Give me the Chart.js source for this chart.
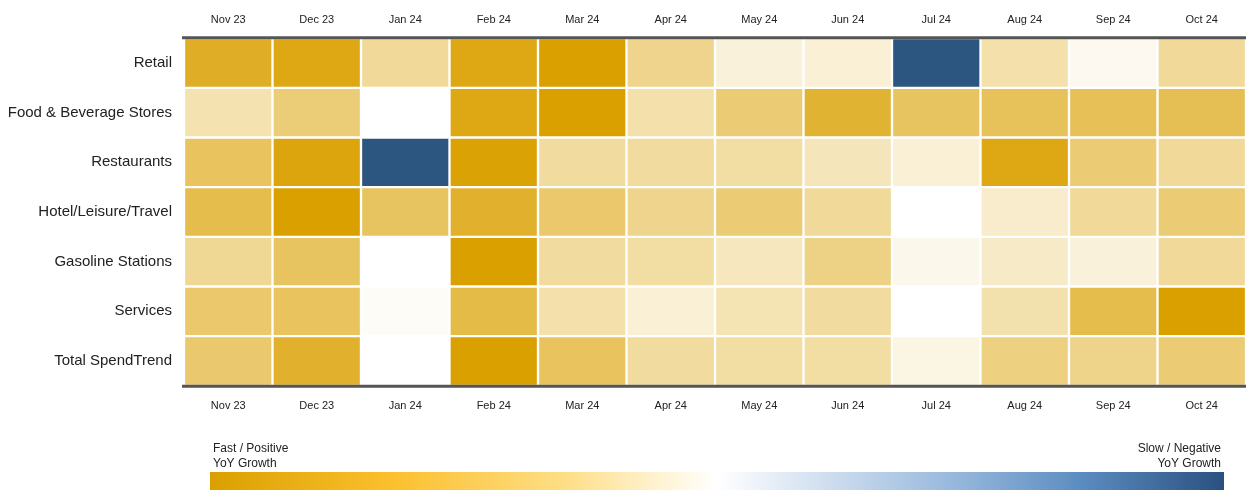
<!DOCTYPE html>
<html>
<head>
<meta charset="utf-8">
<script src="https://cdn.jsdelivr.net/npm/chart.js@4.4.1/dist/chart.umd.min.js"></script>
<style>
html,body{margin:0;padding:0;background:#fff;}
#wrap{position:relative;width:1246px;height:491px;}
</style>
</head>
<body>
<div id="wrap"><canvas id="c" width="1246" height="491"></canvas></div>
<script>
// Categories
const months = ["Nov 23","Dec 23","Jan 24","Feb 24","Mar 24","Apr 24","May 24","Jun 24","Jul 24","Aug 24","Sep 24","Oct 24"];
const sectors = ["Retail","Food & Beverage Stores","Restaurants","Hotel/Leisure/Travel","Gasoline Stations","Services","Total SpendTrend"];

// Relative YoY growth intensity per sector (positive = fast, negative = slow), by month
const retail      = [0.85, 0.92, 0.40, 0.92, 1.00, 0.45, 0.15, 0.16, -1.00, 0.33, 0.06, 0.40];
const foodBev     = [0.31, 0.53, 0.00, 0.92, 1.00, 0.33, 0.55, 0.80, 0.62, 0.65, 0.66, 0.67];
const restaurants = [0.63, 0.95, -1.00, 0.98, 0.38, 0.38, 0.36, 0.27, 0.16, 0.92, 0.55, 0.40];
const hotel       = [0.70, 1.00, 0.62, 0.82, 0.58, 0.45, 0.55, 0.40, 0.00, 0.20, 0.40, 0.55];
const gasoline    = [0.42, 0.62, 0.00, 1.00, 0.38, 0.36, 0.25, 0.48, 0.08, 0.22, 0.15, 0.40];
const services    = [0.58, 0.63, 0.03, 0.72, 0.33, 0.16, 0.30, 0.38, 0.00, 0.32, 0.70, 1.00];
const total       = [0.57, 0.82, 0.00, 1.00, 0.63, 0.38, 0.36, 0.36, 0.11, 0.50, 0.46, 0.55];

const rows = [retail, foodBev, restaurants, hotel, gasoline, services, total];

const GOLD = [218,160,0];
const BLUE = [44,86,128];
function cellColor(v){
  const base = v >= 0 ? GOLD : BLUE;
  const a = Math.min(1, Math.abs(v));
  const c = base.map(ch => Math.round(255 - (255 - ch) * a));
  return `rgb(${c[0]},${c[1]},${c[2]})`;
}

const datasets = months.map((m, mi) => ({
  label: m,
  data: sectors.map(() => 1),
  backgroundColor: sectors.map((s, si) => cellColor(rows[si][mi])),
  borderColor: '#ffffff',
  borderWidth: 1.5,
  borderSkipped: false,
  barPercentage: 1,
  categoryPercentage: 1,
  xAxisID: 'x',
  yAxisID: 'y'
}));

const centerTicks = function(axis){
  axis.ticks = months.map((m, i) => ({ value: i + 0.5 }));
};
const tickFont = { family: 'Liberation Sans, Arial, sans-serif', size: 11 };

const legendPlugin = {
  id: 'gradientLegend',
  afterDraw(chart){
    const ctx = chart.ctx;
    const a = chart.chartArea;
    ctx.save();
    // axis lines on top of cells
    ctx.strokeStyle = '#555';
    ctx.lineWidth = 3;
    ctx.beginPath();
    ctx.moveTo(182, a.top - 0.5); ctx.lineTo(a.right, a.top - 0.5);
    ctx.moveTo(182, a.bottom + 0.5); ctx.lineTo(a.right, a.bottom + 0.5);
    ctx.stroke();

    const x0 = 210, x1 = 1224, y0 = 472, h = 18;
    const g = ctx.createLinearGradient(x0, 0, x1, 0);
    g.addColorStop(0, '#DAA000');
    g.addColorStop(0.18, '#FBC02D');
    g.addColorStop(0.35, '#FEDE86');
    g.addColorStop(0.5, '#FFFFFF');
    g.addColorStop(0.74, '#94B6DB');
    g.addColorStop(0.86, '#5B8CC0');
    g.addColorStop(1, '#2A5080');
    ctx.fillStyle = g;
    ctx.fillRect(x0, y0, x1 - x0, h);
    ctx.fillStyle = '#222';
    ctx.font = '12px "Liberation Sans", Arial, sans-serif';
    ctx.textBaseline = 'alphabetic';
    ctx.textAlign = 'left';
    ctx.fillText('Fast / Positive', 213, 452);
    ctx.fillText('YoY Growth', 213, 467);
    ctx.textAlign = 'right';
    ctx.fillText('Slow / Negative', 1221, 452);
    ctx.fillText('YoY Growth', 1221, 467);
    ctx.restore();
  }
};

new Chart(document.getElementById('c'), {
  type: 'bar',
  data: { labels: sectors, datasets },
  options: {
    indexAxis: 'y',
    responsive: false,
    animation: false,
    layout: { padding: { top: 1, right: 0, left: 0, bottom: 64 } },
    plugins: { legend: { display: false }, tooltip: { enabled: false } },
    scales: {
      x: {
        type: 'linear', position: 'bottom', stacked: true, min: 0, max: 12,
        afterBuildTicks: centerTicks,
        grid: { display: false, drawTicks: false },
        border: { display: false },
        ticks: { color: '#222', font: tickFont, padding: 14, maxRotation: 0, autoSkip: false,
                 callback: (v) => months[Math.floor(v)] }
      },
      x2: {
        type: 'linear', position: 'top', min: 0, max: 12,
        afterBuildTicks: centerTicks,
        grid: { display: false, drawTicks: false },
        border: { display: false },
        ticks: { color: '#222', font: tickFont, padding: 12, maxRotation: 0, autoSkip: false,
                 callback: (v) => months[Math.floor(v)] }
      },
      y: {
        stacked: true,
        grid: { display: false, drawTicks: false },
        border: { display: false },
        afterFit: (s) => { s.width = 184; },
        ticks: { color: '#222', font: { family: 'Liberation Sans, Arial, sans-serif', size: 15 }, padding: 12 }
      }
    }
  },
  plugins: [legendPlugin]
});
</script>
</body>
</html>
